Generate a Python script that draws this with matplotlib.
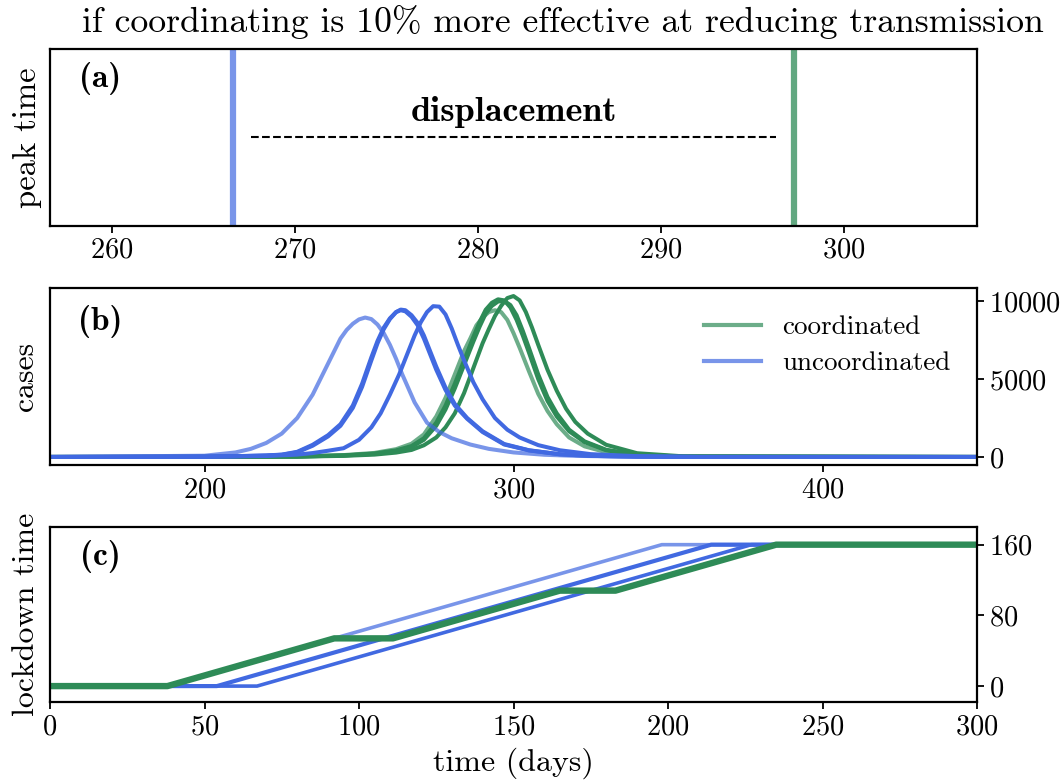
import matplotlib
matplotlib.use('Agg')
import matplotlib.pyplot as plt
from matplotlib.lines import Line2D

plt.rcParams['font.family'] = 'cmr10'
plt.rcParams['axes.formatter.use_mathtext'] = True
plt.rcParams['mathtext.fontset'] = 'cm'

BLUE = 'royalblue'
GREEN = 'seagreen'

# ---------------- data ----------------
title = 'if coordinating is 10% more effective at reducing transmission'

# (a) peak times
peak_uncoord = 266.6
peak_coord = 297.3
peak_ticks = [260, 270, 280, 290, 300]

# (b) case curves (uncoordinated)
days_u1 = [150, 200, 210, 215, 220, 225, 230, 235, 240, 244, 246, 248, 250, 252, 254, 256, 258, 260, 262, 264, 268, 272, 276, 280, 286, 292, 300, 310, 320, 335, 350, 450]
cases_u1 = [0, 80, 290, 520, 900, 1500, 2500, 4000, 6000, 7600, 8150, 8550, 8830, 8950, 8850, 8500, 7950, 7200, 6300, 5300, 3500, 2200, 1600, 1200, 800, 520, 290, 140, 70, 25, 5, 0]

days_u2 = [150, 200, 210, 220, 225, 230, 235, 240, 244, 248, 251, 254, 256, 258, 260, 262, 263.5, 265, 267, 269, 271, 273, 275, 278, 281, 285, 290, 297, 305, 315, 325, 340, 360, 450]
cases_u2 = [0, 20, 50, 100, 150, 330, 780, 1400, 2100, 3300, 4700, 6400, 7450, 8300, 8900, 9300, 9420, 9350, 9000, 8450, 7600, 6600, 5600, 4300, 3300, 2450, 1600, 800, 420, 170, 70, 20, 0, 0]
cases_u3 = [0, 20, 45, 90, 140, 300, 720, 1320, 2000, 3150, 4500, 6200, 7300, 8200, 8850, 9300, 9460, 9420, 9100, 8600, 7800, 6800, 5800, 4450, 3400, 2500, 1650, 830, 430, 175, 70, 20, 0, 0]

days_u4 = [150, 200, 220, 230, 235, 240, 245, 250, 254, 257, 260, 263, 266, 268, 270, 272, 274, 276, 278, 280, 282, 284, 287, 290, 294, 298, 302, 308, 315, 325, 340, 360, 450]
cases_u4 = [0, 10, 60, 150, 250, 400, 560, 1100, 1900, 2800, 4000, 5300, 6800, 7800, 8650, 9300, 9680, 9650, 9150, 8250, 7200, 6200, 4800, 3700, 2500, 1750, 1250, 760, 430, 180, 50, 0, 0]

# (b) case curves (coordinated)
days_c1 = [150, 200, 230, 245, 255, 262, 267, 271, 275, 278, 281, 284, 286, 288, 290, 292, 294, 296, 298, 300, 302, 305, 308, 311, 314, 318, 323, 330, 340, 355, 450]
cases_c1 = [0, 5, 40, 120, 260, 500, 850, 1450, 2600, 3800, 5300, 6800, 7600, 8450, 8950, 9300, 9420, 9300, 8800, 7950, 7000, 5500, 4050, 2950, 2100, 1250, 680, 300, 100, 20, 0]

days_c2 = [150, 200, 230, 245, 255, 262, 267, 271, 275, 278, 281, 284, 287, 289, 291, 293, 295, 297, 299, 301, 303, 305, 308, 311, 314, 318, 323, 330, 340, 355, 450]
cases_c2 = [0, 5, 30, 100, 220, 420, 700, 1200, 2200, 3300, 4700, 6200, 7700, 8650, 9450, 9900, 10120, 10050, 9600, 8800, 7800, 6700, 5000, 3600, 2600, 1650, 950, 430, 130, 25, 0]
cases_c3 = [0, 5, 25, 90, 200, 380, 640, 1100, 2000, 3050, 4400, 5900, 7400, 8350, 9200, 9700, 9980, 10020, 9750, 9100, 8100, 7000, 5300, 3850, 2800, 1750, 1000, 460, 140, 25, 0]

days_c4 = [150, 200, 230, 245, 255, 262, 267, 271, 275, 278, 281, 284, 287, 290, 292, 294, 296, 298, 300, 302, 304, 306, 308, 311, 314, 317, 320, 324, 330, 340, 355, 450]
cases_c4 = [0, 5, 20, 70, 150, 280, 450, 750, 1250, 1900, 2800, 4100, 5700, 7300, 8200, 9050, 9700, 10200, 10330, 10050, 9300, 8300, 7200, 5600, 4250, 3100, 2250, 1500, 780, 240, 40, 0]

cases_ticks = [0, 5000, 10000]
cases_xticks = [200, 300, 400]

# (c) lockdown time schedules
lock_days_u1 = [0, 38, 198, 300]
lock_u1 = [0, 0, 160, 160]
lock_days_u2 = [0, 54, 214, 300]
lock_u2 = [0, 0, 160, 160]
lock_days_u3 = [0, 67, 227, 300]
lock_u3 = [0, 0, 160, 160]
lock_days_c = [0, 38, 92, 111, 165, 183, 235, 300]
lock_c = [0, 0, 54, 54, 108, 108, 160, 160]
lock_ticks = [0, 80, 160]
time_ticks = [0, 50, 100, 150, 200, 250, 300]

# ---------------- figure ----------------
W, H = 1064, 784
fig = plt.figure(figsize=(W / 100, H / 100), dpi=100)

def box(l, t, r, b):
    return [l / W, 1 - b / H, (r - l) / W, (b - t) / H]

ax_a = fig.add_axes(box(50, 49, 977, 225.5))
ax_b = fig.add_axes(box(50, 288, 977, 465))
ax_c = fig.add_axes(box(50, 527, 977, 702))

TICK_FS = 20.5
LABEL_FS = 23
PANEL_FS = 24
for ax in (ax_a, ax_b, ax_c):
    for s in ax.spines.values():
        s.set_linewidth(1.6)
    ax.tick_params(labelsize=TICK_FS, width=1.3, length=5, direction='out')

# (a)
ax_a.axvline(peak_uncoord, color=BLUE, alpha=0.7, lw=4.5)
ax_a.axvline(peak_coord, color=GREEN, alpha=0.75, lw=4.5)
ax_a.plot([peak_uncoord + 1, peak_coord - 1], [0.5, 0.5], ls='--', color='black', lw=1.5)
ax_a.text((peak_uncoord + peak_coord) / 2, 0.55, 'displacement', family='cmb10',
          fontsize=26, ha='center', va='bottom')
ax_a.set_xlim(peak_uncoord - 10, peak_coord + 10)
ax_a.set_ylim(0, 1)
ax_a.set_xticks(peak_ticks)
ax_a.set_yticks([])
ax_a.set_ylabel('peak time', fontsize=LABEL_FS + 0.5, labelpad=6)
ax_a.text(0.054, 0.835, '(a)', family='cmb10', fontsize=PANEL_FS, transform=ax_a.transAxes,
          ha='center', va='center')
fig.text(563 / W, 1 - 22 / H, title, fontsize=25.7, ha='center', va='center')

# (b)
for d, c, a in [(days_c1, cases_c1, 0.7), (days_c2, cases_c2, 1.0), (days_c2, cases_c3, 1.0),
                (days_c4, cases_c4, 1.0)]:
    ax_b.plot(d, c, color=GREEN, alpha=a, lw=2.9, solid_joinstyle='round')
for d, c, a in [(days_u1, cases_u1, 0.7), (days_u2, cases_u2, 1.0), (days_u2, cases_u3, 1.0),
                (days_u4, cases_u4, 1.0)]:
    ax_b.plot(d, c, color=BLUE, alpha=a, lw=2.9, solid_joinstyle='round')
ax_b.set_xlim(150, 450)
ax_b.set_yticks(cases_ticks)
ax_b.set_xticks(cases_xticks)
ax_b.yaxis.tick_right()
ax_b.yaxis.set_label_position('left')
ax_b.set_ylabel('cases', fontsize=LABEL_FS, labelpad=8)
ax_b.text(0.054, 0.81, '(b)', family='cmb10', fontsize=PANEL_FS, transform=ax_b.transAxes,
          ha='center', va='center')
handles = [Line2D([], [], color=GREEN, alpha=0.7, lw=3),
           Line2D([], [], color=BLUE, alpha=0.7, lw=3)]
ax_b.legend(handles, ['coordinated', 'uncoordinated'], loc='upper right', frameon=False,
            fontsize=19.5, handlelength=2.1, handletextpad=0.8, labelspacing=0.45,
            bbox_to_anchor=(0.998, 0.985))

# (c)
ax_c.plot(lock_days_u1, lock_u1, color=BLUE, alpha=0.7, lw=2.6)
ax_c.plot(lock_days_u2, lock_u2, color=BLUE, lw=3)
ax_c.plot(lock_days_u3, lock_u3, color=BLUE, lw=2.6)
ax_c.plot(lock_days_c, lock_c, color=GREEN, lw=4.6)
ax_c.set_xlim(0, 300)
ax_c.set_ylim(-18, 180)
ax_c.set_xticks(time_ticks)
ax_c.set_yticks(lock_ticks)
ax_c.yaxis.tick_right()
ax_c.yaxis.set_label_position('left')
ax_c.set_ylabel('lockdown time', fontsize=LABEL_FS, labelpad=7)
ax_c.set_xlabel('time (days)', fontsize=LABEL_FS, labelpad=5)
ax_c.text(0.054, 0.83, '(c)', family='cmb10', fontsize=PANEL_FS, transform=ax_c.transAxes,
          ha='center', va='center')

fig.savefig('out.png', dpi=100)
